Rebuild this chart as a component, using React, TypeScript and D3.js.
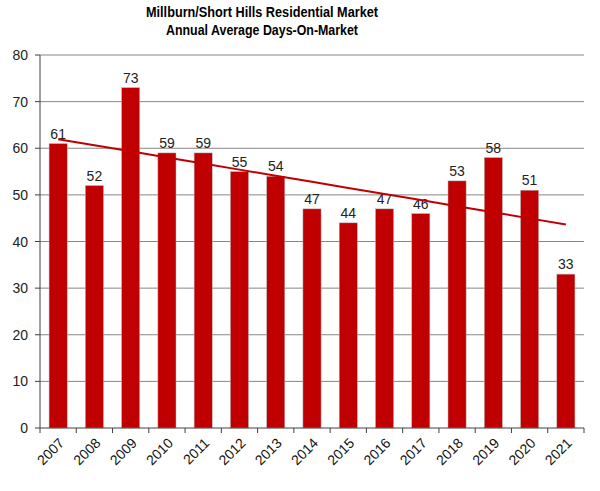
import React from "react";
import * as d3 from "d3";

const years = ["2007","2008","2009","2010","2011","2012","2013","2014","2015","2016","2017","2018","2019","2020","2021"];
const days = [61,52,73,59,59,55,54,47,44,47,46,53,58,51,33];
const yTicks = [0,10,20,30,40,50,60,70,80];
const titleLines = ["Millburn/Short Hills Residential Market","Annual Average Days-On-Market"];

const W = 600, H = 491;
const left = 40, right = 584, top = 55, bottom = 428;
const RED = "#C00000";

export default function App() {
  const x = d3.scaleBand().domain(years).range([left, right]).paddingInner(0.5).paddingOuter(0.25);
  const xb = d3.scaleBand().domain(years).range([left, right]);
  const y = d3.scaleLinear().domain([0, 80]).range([bottom, top]);
  const n = days.length;
  const mx = d3.mean(d3.range(n)) as number;
  const my = d3.mean(days) as number;
  const slope = d3.sum(days.map((v, i) => (i - mx) * (v - my))) / d3.sum(d3.range(n).map(i => (i - mx) ** 2));
  const icpt = my - slope * mx;
  const cx = (i: number) => (xb(years[i]) as number) + xb.bandwidth() / 2;
  const line = d3.line<number>().x((_, i) => cx(i)).y((_, i) => y(icpt + slope * i));
  const font = "'Liberation Sans', Arial, sans-serif";
  return (
    <svg width={W} height={H} style={{ position: "absolute", left: 0, top: 0 }} fontFamily={font}>
      <rect width={W} height={H} fill="#fff" />
      {titleLines.map((t, i) => (
        <text key={t} x={262} y={17 + i * 18} textAnchor="middle" fontSize={14} fontWeight="bold" fill="#000"
          textLength={i === 0 ? 232 : 192} lengthAdjust="spacingAndGlyphs">{t}</text>
      ))}
      {yTicks.map(t => (
        <g key={t}>
          {t > 0 && <line x1={left} x2={right} y1={y(t)} y2={y(t)} stroke="#868686" strokeWidth={1} />}
          <line x1={left - 5} x2={left} y1={y(t)} y2={y(t)} stroke="#404040" />
          <text x={28} y={y(t) + 5} textAnchor="end" fontSize={14} fill="#222">{t}</text>
        </g>
      ))}
      {years.map((yr, i) => (
        <g key={yr}>
          <rect x={x(yr)} y={y(days[i])} width={x.bandwidth()} height={bottom - y(days[i])} fill={RED} stroke="#bbb" strokeWidth={0.5} />
          <text x={cx(i)} y={y(days[i]) - 5} textAnchor="middle" fontSize={14} fill="#222">{days[i]}</text>
          <text transform={`translate(${cx(i) + 7},${bottom + 16}) rotate(-45)`} textAnchor="end" fontSize={14} fill="#111">{yr}</text>
        </g>
      ))}
      {d3.range(n + 1).map(i => {
        const xx = left + i * xb.bandwidth();
        return <line key={i} x1={xx} x2={xx} y1={bottom} y2={bottom + 5} stroke="#404040" />;
      })}
      <path d={line(days) as string} fill="none" stroke={RED} strokeWidth={2} />
      <line x1={left} x2={left} y1={top} y2={bottom} stroke="#404040" />
      <line x1={left} x2={right} y1={bottom} y2={bottom} stroke="#404040" />
    </svg>
  );
}
